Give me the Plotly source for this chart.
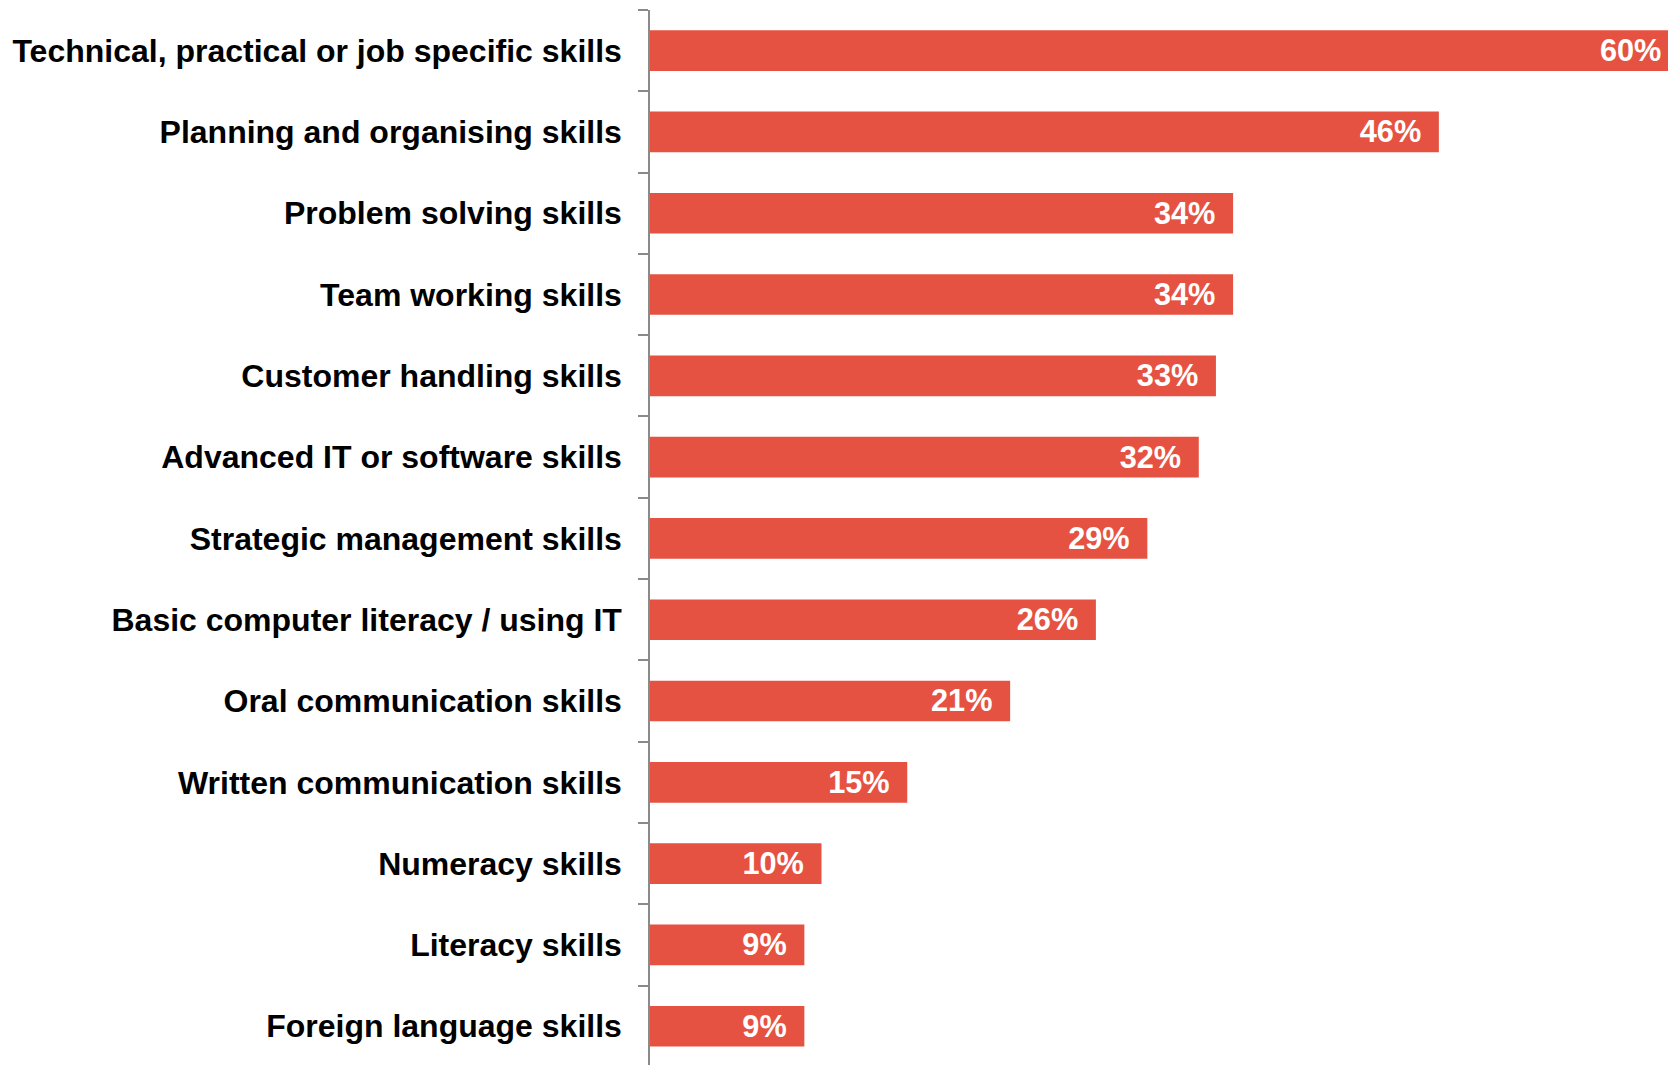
import plotly.graph_objects as go

# Skills found lacking, share of establishments (%)
skills = [
    "Technical, practical or job specific skills",
    "Planning and organising skills",
    "Problem solving skills",
    "Team working skills",
    "Customer handling skills",
    "Advanced IT or software skills",
    "Strategic management skills",
    "Basic computer literacy / using IT",
    "Oral communication skills",
    "Written communication skills",
    "Numeracy skills",
    "Literacy skills",
    "Foreign language skills",
]
shares = [60, 46, 34, 34, 33, 32, 29, 26, 21, 15, 10, 9, 9]

BAR_COLOR = "#E65241"
AXIS_GREY = "#8A8A8A"
FONT = "Liberation Sans, Arial, sans-serif"

fig = go.Figure(
    go.Bar(
        x=shares,
        y=skills,
        orientation="h",
        marker=dict(color=BAR_COLOR, line=dict(width=0)),
        # trailing non-breaking + thin space keeps the value clear of the bar end
        text=[f"{v}%\u00a0\u2009" for v in shares],
        textposition="inside",
        insidetextanchor="end",
        textfont=dict(family=FONT, size=31, color="white", weight="bold"),
        hoverinfo="skip",
    )
)

fig.update_layout(
    width=1668,
    height=1065,
    margin=dict(l=650, r=0, t=10, b=0),
    paper_bgcolor="white",
    plot_bgcolor="white",
    bargap=0.5,
    showlegend=False,
)

fig.update_xaxes(
    range=[0, 59.36],
    showgrid=False,
    zeroline=False,
    showline=False,
    showticklabels=False,
    ticks="",
)

fig.update_yaxes(
    type="category",
    range=[12.477, -0.5],
    showgrid=False,
    zeroline=False,
    showline=True,
    linecolor=AXIS_GREY,
    linewidth=1.5,
    ticks="outside",
    tickson="boundaries",
    ticklen=10,
    tickwidth=1.5,
    tickcolor=AXIS_GREY,
    tickfont=dict(family=FONT, size=32, color="black", weight="bold"),
    ticklabelstandoff=20,
)

fig.write_html("out.html")
